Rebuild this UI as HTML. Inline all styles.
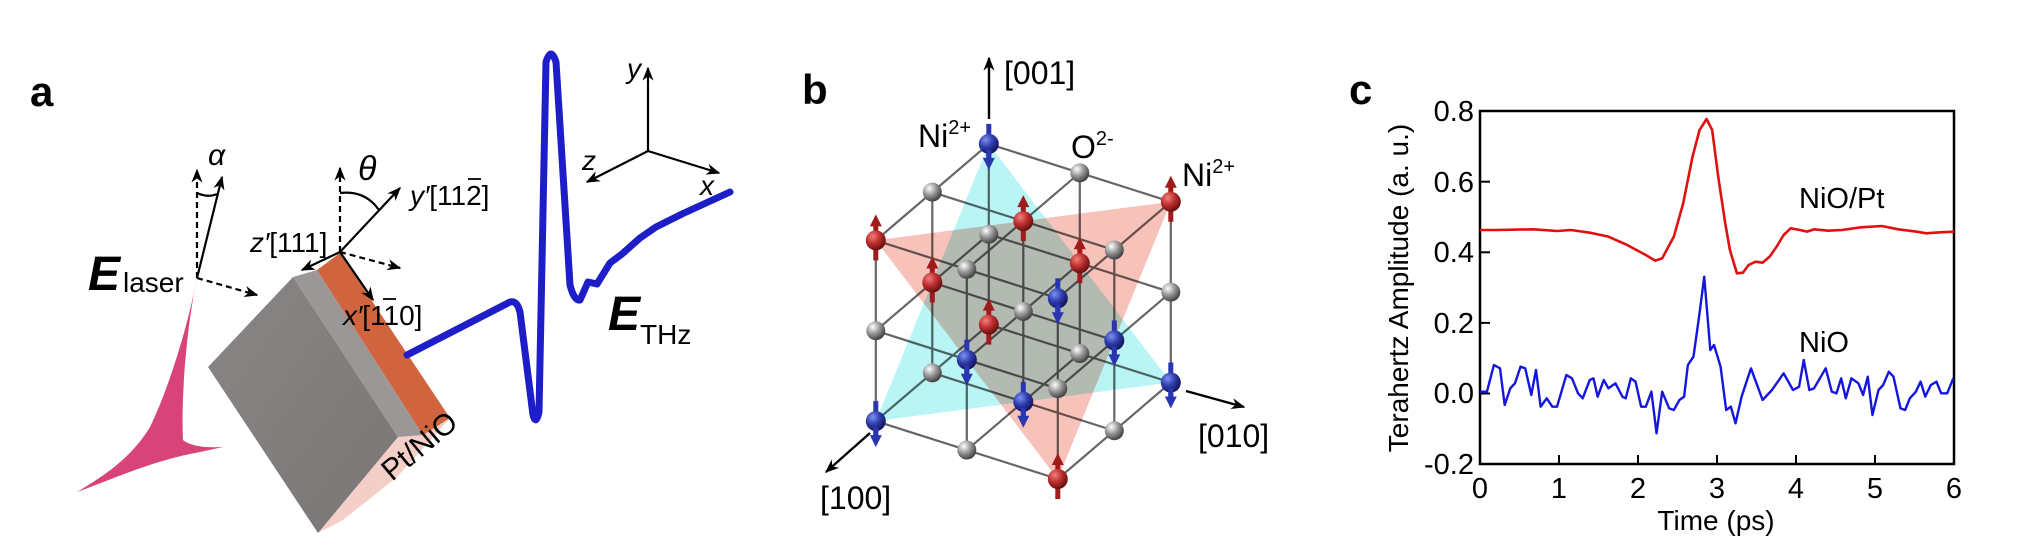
<!DOCTYPE html>
<html><head><meta charset="utf-8"><style>
html,body{margin:0;padding:0;background:#fff;}
svg{display:block;font-family:"Liberation Sans",sans-serif;}
</style></head><body>
<svg id="s" width="2029" height="551" viewBox="0 0 2029 551" xmlns="http://www.w3.org/2000/svg">
<defs>
<marker id="ah2" viewBox="0 0 10 10" refX="9" refY="5" markerWidth="14" markerHeight="14" orient="auto" markerUnits="userSpaceOnUse"><path d="M0,1 L10,5 L0,9 L3,5 Z" fill="#000"/></marker>
<radialGradient id="gO" cx="0.35" cy="0.3" r="0.7"><stop offset="0" stop-color="#fff"/><stop offset="0.5" stop-color="#9a9a9a"/><stop offset="1" stop-color="#444"/></radialGradient>
<radialGradient id="gR" cx="0.35" cy="0.3" r="0.7"><stop offset="0" stop-color="#f08080"/><stop offset="0.5" stop-color="#c03030"/><stop offset="1" stop-color="#6a1010"/></radialGradient>
<radialGradient id="gB" cx="0.35" cy="0.3" r="0.7"><stop offset="0" stop-color="#8090f0"/><stop offset="0.5" stop-color="#3040b0"/><stop offset="1" stop-color="#151560"/></radialGradient>
<linearGradient id="gs" x1="0" y1="0" x2="1" y2="1"><stop offset="0" stop-color="#8a8686"/><stop offset="1" stop-color="#7a7676"/></linearGradient>
</defs>

<!-- Panel a -->
<text x="30" y="106" font-size="42" font-weight="bold">a</text>
<path d="M197,278 C187,330 168,390 150,427 C130,460 100,478 77,492 C115,478 155,460 200,452 L223,447 C205,448 190,446 183,440 C181,400 186,330 197,278 Z" fill="#d8447a"/>
<polygon points="398,437 423,435 450,418 397,477 343,520 318,533" fill="#f3cfc8"/>
<polygon points="208,367 293,277 398,437 318,533" fill="url(#gs)"/>
<polygon points="293,277 317,270 423,435 398,437" fill="#9b9797"/>
<polygon points="317,270 340,253 450,418 423,435" fill="#d0643e"/>
<path d="M407,355 L510,302 Q517,300 520,312 L533,415 Q536,426 539,412 L546,62 Q551,46 556,62 L570,285 Q574,301 580,300 L588,282 L597,284 L610,263 L622,254 L640,238 L656,227 L682,214 L730,192" fill="none" stroke="#1e1ec8" stroke-width="7" stroke-linejoin="round" stroke-linecap="round"/>
<g stroke="#000" stroke-width="2.2" fill="none">
<line x1="648" y1="151" x2="648" y2="68" marker-end="url(#ah2)"/>
<line x1="648" y1="151" x2="587" y2="182" marker-end="url(#ah2)"/>
<line x1="648" y1="151" x2="719" y2="173" marker-end="url(#ah2)"/>
</g>
<text x="627" y="78" font-size="28" font-style="italic">y</text>
<text x="582" y="170" font-size="28" font-style="italic">z</text>
<text x="700" y="195" font-size="28" font-style="italic">x</text>
<g stroke="#000" stroke-width="2.2" fill="none">
<line x1="197" y1="278" x2="197" y2="170" stroke-dasharray="6,4" marker-end="url(#ah2)"/>
<line x1="197" y1="278" x2="222" y2="177" marker-end="url(#ah2)"/>
<line x1="197" y1="278" x2="257" y2="295" stroke-dasharray="6,4" marker-end="url(#ah2)"/>
<path d="M197,193 Q208,198 217,194"/>
<line x1="340" y1="252" x2="340" y2="168" stroke-dasharray="6,4" marker-end="url(#ah2)"/>
<line x1="340" y1="252" x2="400" y2="188" marker-end="url(#ah2)"/>
<line x1="340" y1="252" x2="302" y2="270" marker-end="url(#ah2)"/>
<line x1="340" y1="252" x2="373" y2="300" marker-end="url(#ah2)"/>
<line x1="340" y1="252" x2="400" y2="268" stroke-dasharray="6,4" marker-end="url(#ah2)"/>
<path d="M340,193 Q365,190 379,210"/>
</g>
<text x="208" y="165" font-size="30" font-style="italic">α</text>
<text x="358" y="180" font-size="34" font-style="italic">θ</text>
<text x="410" y="205" font-size="28"><tspan font-style="italic">y′</tspan>[112]</text>
<line x1="468" y1="179" x2="481" y2="179" stroke="#000" stroke-width="1.8"/>
<text x="250" y="252" font-size="28"><tspan font-style="italic">z′</tspan>[111]</text>
<text x="343" y="325" font-size="28"><tspan font-style="italic">x′</tspan>[110]</text>
<line x1="383" y1="299" x2="396" y2="299" stroke="#000" stroke-width="1.8"/>
<text x="88" y="290" font-size="48" font-weight="bold" font-style="italic">E</text>
<text x="123" y="292" font-size="28">laser</text>
<text x="608" y="330" font-size="48" font-weight="bold" font-style="italic">E</text>
<text x="640" y="344" font-size="28">THz</text>
<text transform="translate(392,482) rotate(-40)" font-size="30">Pt/NiO</text>

<!-- Panel b -->
<text x="802" y="104" font-size="42" font-weight="bold">b</text>
<g id="cube"></g>
<line x1="989" y1="119" x2="989" y2="58" stroke="#000" stroke-width="2.4" marker-end="url(#ah2)"/>
<line x1="1186" y1="391" x2="1244" y2="407" stroke="#000" stroke-width="2.4" marker-end="url(#ah2)"/>
<line x1="870" y1="433" x2="826" y2="472" stroke="#000" stroke-width="2.4" marker-end="url(#ah2)"/>
<text x="1004" y="84" font-size="32">[001]</text>
<text x="918" y="147" font-size="32">Ni<tspan font-size="20" dy="-13">2+</tspan></text>
<text x="1071" y="158" font-size="32">O<tspan font-size="20" dy="-13">2-</tspan></text>
<text x="1182" y="186" font-size="32">Ni<tspan font-size="20" dy="-13">2+</tspan></text>
<text x="1198" y="447" font-size="32">[010]</text>
<text x="820" y="509" font-size="32">[100]</text>

<!-- Panel c -->
<text x="1349" y="104" font-size="42" font-weight="bold">c</text>
<rect x="1480" y="111" width="474" height="353" fill="none" stroke="#000" stroke-width="2.5"/>
<g stroke="#000" stroke-width="2">
<line x1="1480" y1="181.7" x2="1490" y2="181.7"/><line x1="1480" y1="252.3" x2="1490" y2="252.3"/><line x1="1480" y1="322.9" x2="1490" y2="322.9"/><line x1="1480" y1="393.5" x2="1490" y2="393.5"/>
<line x1="1559" y1="464" x2="1559" y2="455"/><line x1="1638" y1="464" x2="1638" y2="455"/><line x1="1717" y1="464" x2="1717" y2="455"/><line x1="1796" y1="464" x2="1796" y2="455"/><line x1="1875" y1="464" x2="1875" y2="455"/>
</g>
<g font-size="29" text-anchor="end">
<text x="1474" y="121">0.8</text><text x="1474" y="192">0.6</text><text x="1474" y="262">0.4</text><text x="1474" y="333">0.2</text><text x="1474" y="403">0.0</text><text x="1474" y="474">-0.2</text>
</g>
<g font-size="29" text-anchor="middle">
<text x="1480" y="498">0</text><text x="1559" y="498">1</text><text x="1638" y="498">2</text><text x="1717" y="498">3</text><text x="1796" y="498">4</text><text x="1875" y="498">5</text><text x="1954" y="498">6</text>
</g>
<text x="1716" y="530" font-size="28" text-anchor="middle">Time (ps)</text>
<text transform="translate(1408,288) rotate(-90)" font-size="28" text-anchor="middle">Terahertz Amplitude (a. u.)</text>
<text x="1799" y="208" font-size="29">NiO/Pt</text>
<text x="1799" y="352" font-size="29">NiO</text>
<g transform="translate(1300,50) scale(0.4673,0.33333)" fill="none" stroke-linejoin="round">
<polyline vector-effect="non-scaling-stroke" stroke="#e01010" stroke-width="2.6" points="385,540 420,540 500,538 550,543 580,540 620,548 660,560 700,585 740,615 760,632 775,625 800,560 820,460 840,320 855,240 870,207 882,240 895,380 910,520 920,600 935,670 948,668 960,645 975,635 990,638 1005,620 1020,590 1035,555 1050,535 1070,540 1085,545 1100,538 1130,542 1160,540 1200,532 1245,528 1280,538 1320,545 1340,550 1370,547 1400,545"/>
<polyline vector-effect="non-scaling-stroke" stroke="#1515e0" stroke-width="2.4" points="385,1025 400,1025 415,945 428,955 438,1065 450,1015 460,1000 472,950 482,955 495,1035 505,960 515,1070 528,1045 540,1070 550,1070 570,975 582,985 595,1030 605,1045 620,990 628,985 637,1040 650,990 660,1015 675,1000 690,1040 697,1045 708,985 718,995 730,1070 740,1070 752,1025 763,1150 775,1025 790,1075 800,1080 812,1050 822,1040 830,945 842,920 855,790 865,680 878,900 886,885 900,950 912,1080 922,1070 932,1120 945,1040 965,955 990,1050 1010,1020 1035,970 1055,1020 1068,1010 1078,930 1090,1020 1100,1015 1125,955 1138,1025 1148,1030 1158,985 1168,1045 1180,985 1195,1000 1205,1035 1215,980 1225,1095 1238,1020 1248,1005 1260,965 1270,980 1285,1075 1295,1080 1305,1045 1318,1025 1328,995 1338,1040 1350,1005 1362,995 1372,1030 1385,1030 1398,985"/>
</g>
</svg>
<script>
(function(){
var NS="http://www.w3.org/2000/svg",g=document.getElementById("cube");
function P(i,j,k){return [988.8-56.5*i+91*j,143.9+48.25*i+28.95*j+90.35*k];}
function el(n,a){var e=document.createElementNS(NS,n);for(var k in a)e.setAttribute(k,a[k]);g.appendChild(e);return e;}
var i,j,k,p,q;
for(i=0;i<3;i++)for(j=0;j<3;j++){
 p=P(i,j,0);q=P(i,j,2);el("line",{x1:p[0],y1:p[1],x2:q[0],y2:q[1],stroke:"#666","stroke-width":2.2});
 p=P(i,0,j);q=P(i,2,j);el("line",{x1:p[0],y1:p[1],x2:q[0],y2:q[1],stroke:"#666","stroke-width":2.2});
 p=P(0,i,j);q=P(2,i,j);el("line",{x1:p[0],y1:p[1],x2:q[0],y2:q[1],stroke:"#666","stroke-width":2.2});
}
function tri(a,b,c,col,op){var s=[a,b,c].map(function(v){var t=P(v[0],v[1],v[2]);return t[0]+","+t[1];}).join(" ");
 var e=el("polygon",{points:s,fill:col,"fill-opacity":op});e.style.mixBlendMode="multiply";}
tri([0,0,0],[2,0,2],[0,2,2],"#80ecec",0.55);
tri([2,0,0],[0,2,0],[2,2,2],"#f09080",0.55);
var pts=[];
for(i=0;i<3;i++)for(j=0;j<3;j++)for(k=0;k<3;k++)pts.push([i,j,k]);
pts.sort(function(a,b){return (a[0]+a[1]+a[2]*0.3)-(b[0]+b[1]+b[2]*0.3);});
pts.forEach(function(v){
 var p=P(v[0],v[1],v[2]),s=v[0]+v[1]+v[2];
 if(s%2==1){el("circle",{cx:p[0],cy:p[1],r:9.5,fill:"url(#gO)"});return;}
 var red=(s==2||s==6),col=red?"#a01c1c":"#2a35b0";
 if(red){
  el("line",{x1:p[0],y1:p[1]+20,x2:p[0],y2:p[1]-16,stroke:col,"stroke-width":5});
  el("polygon",{points:(p[0]-6)+","+(p[1]-14)+" "+(p[0]+6)+","+(p[1]-14)+" "+p[0]+","+(p[1]-26),fill:col});
  el("circle",{cx:p[0],cy:p[1],r:10,fill:"url(#gR)"});
 }else{
  el("line",{x1:p[0],y1:p[1]-20,x2:p[0],y2:p[1]+16,stroke:col,"stroke-width":5});
  el("circle",{cx:p[0],cy:p[1],r:10,fill:"url(#gB)"});
  el("line",{x1:p[0],y1:p[1]+6,x2:p[0],y2:p[1]+16,stroke:col,"stroke-width":5});
  el("polygon",{points:(p[0]-6)+","+(p[1]+14)+" "+(p[0]+6)+","+(p[1]+14)+" "+p[0]+","+(p[1]+26),fill:col});
 }
});
})();
</script>
</body></html>
